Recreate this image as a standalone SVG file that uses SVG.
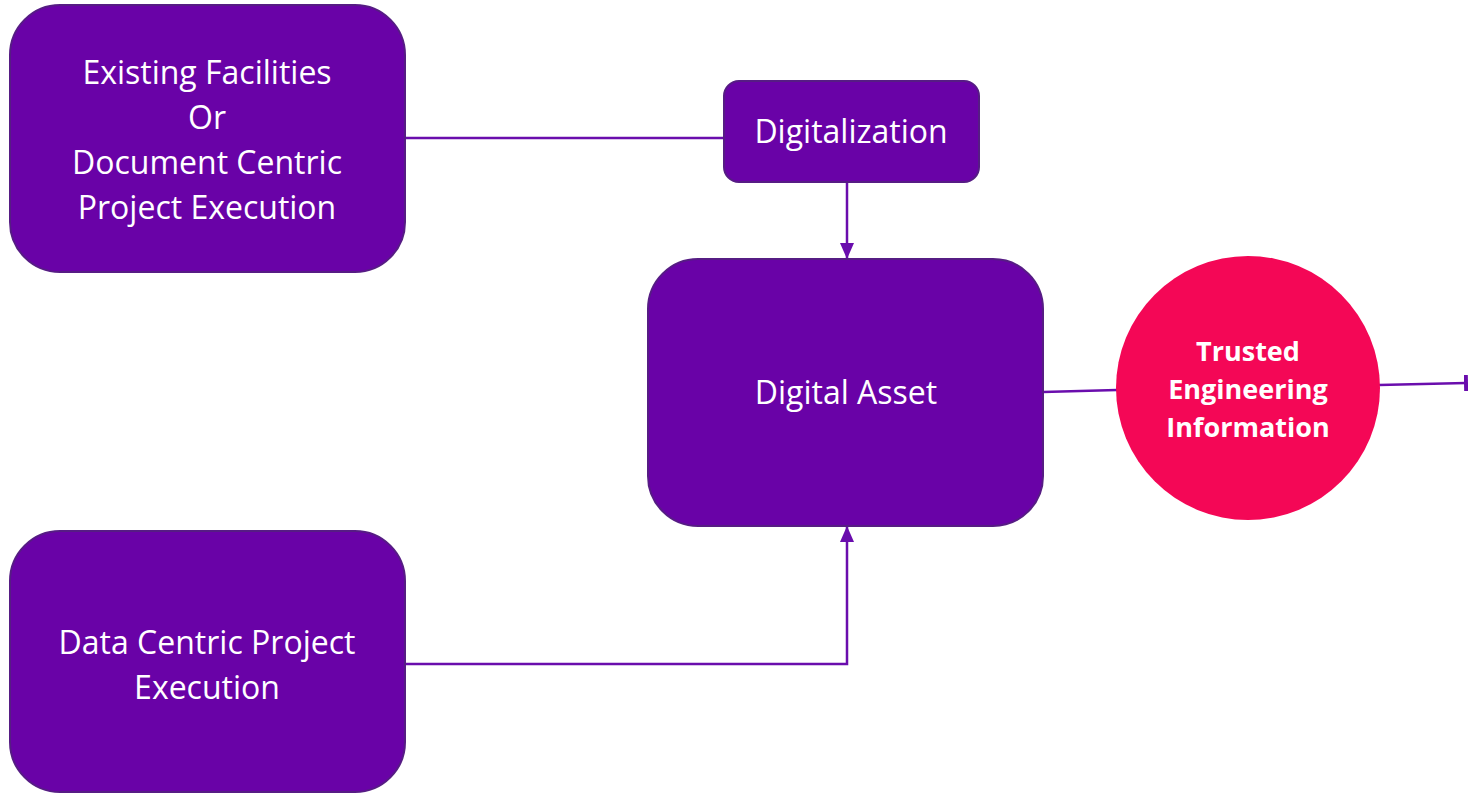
<svg xmlns="http://www.w3.org/2000/svg" width="1468" height="793" viewBox="0 0 1468 793">
<style>
.box{fill:#6902a7;stroke:#561c84;stroke-width:2}
.lbl{fill:#ffffff;font-family:"Open Sans","Noto Sans",sans-serif;font-size:32px;text-anchor:middle}
.blbl{fill:#ffffff;font-family:"Open Sans","Noto Sans",sans-serif;font-size:27px;font-weight:bold;text-anchor:middle}
.con{fill:none;stroke:#6a0dad;stroke-width:2.5}
</style>
<defs>
<marker id="arrL" viewBox="0 0 16 16" refX="16" refY="8" markerWidth="16" markerHeight="16" orient="auto" markerUnits="userSpaceOnUse">
<path d="M0,1 L16,8 L0,15 Z" fill="#6a0dad"/>
</marker>
<marker id="tee" viewBox="0 0 4 16" refX="2" refY="8" markerWidth="4" markerHeight="16" orient="auto" markerUnits="userSpaceOnUse">
<rect x="0" y="0" width="4" height="16" fill="#6a0dad"/>
</marker>
</defs>
<rect width="1468" height="793" fill="#ffffff"/>
<g id="connectors">
<path class="con" d="M405,138 L724,138"/>
<path class="con" d="M847,182 L847,259" marker-end="url(#arrL)"/>
<path class="con" d="M405,664 L847,664 L847,526" marker-end="url(#arrL)"/>
<path class="con" d="M1043,392 L1117,390"/>
<path class="con" d="M1379,385 L1466,383" marker-end="url(#tee)"/>
</g>
<g id="existing">
<rect class="box" x="10" y="5" width="395" height="267" rx="50"/>
<text class="lbl" x="207" y="84">Existing Facilities</text>
<text class="lbl" x="207" y="129">Or</text>
<text class="lbl" x="207" y="174">Document Centric</text>
<text class="lbl" x="207" y="219">Project Execution</text>
</g>
<g id="datacentric">
<rect class="box" x="10" y="531" width="395" height="261" rx="50"/>
<text class="lbl" x="207" y="654">Data Centric Project</text>
<text class="lbl" x="207" y="699">Execution</text>
</g>
<g id="digitalization">
<rect class="box" x="724" y="81" width="255" height="101" rx="15"/>
<text class="lbl" x="851" y="143">Digitalization</text>
</g>
<g id="digitalasset">
<rect class="box" x="648" y="259" width="395" height="267" rx="50"/>
<text class="lbl" x="846" y="404">Digital Asset</text>
</g>
<g id="trusted">
<circle cx="1248" cy="388" r="132" fill="#f40756"/>
<text class="blbl" x="1248" y="361">Trusted</text>
<text class="blbl" x="1248" y="399">Engineering</text>
<text class="blbl" x="1248" y="437">Information</text>
</g>
</svg>
